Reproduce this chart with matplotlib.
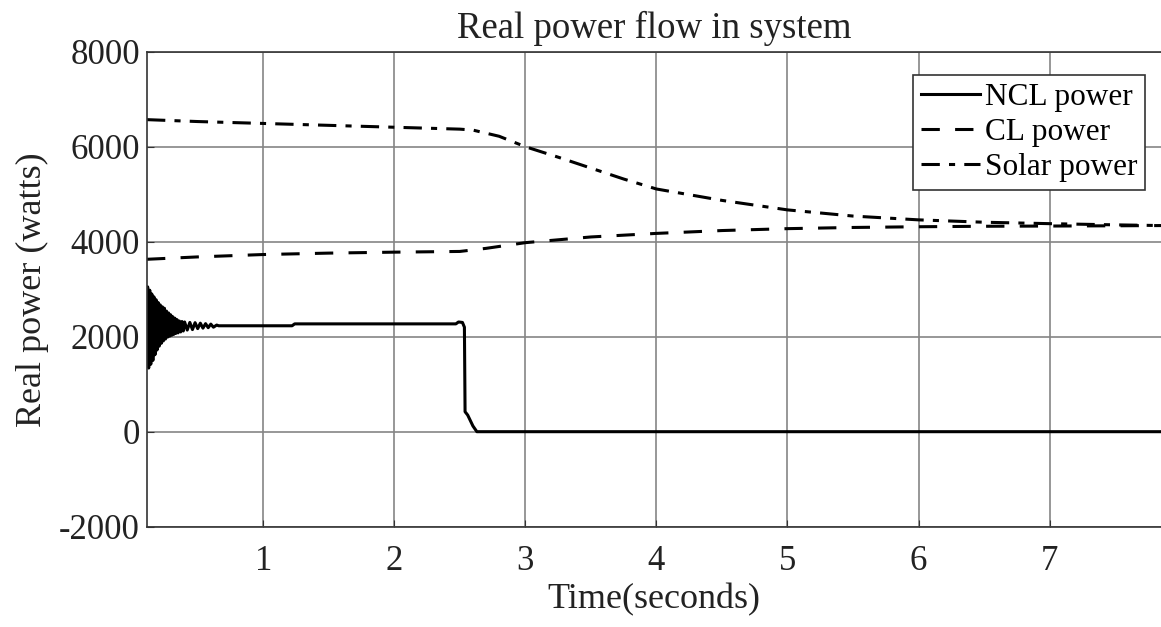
import numpy as np
import matplotlib
matplotlib.use('Agg')
import matplotlib.pyplot as plt

plt.rcParams['font.family'] = ['Liberation Serif', 'DejaVu Serif']
plt.rcParams['axes.unicode_minus'] = False

# NCL power: decaying oscillation at start, then flat, then drop to zero
ncl_t = [0.113, 0.118, 0.126, 0.134, 0.142, 0.150, 0.158, 0.166, 0.174, 0.182,
         0.190, 0.198, 0.206, 0.214, 0.222, 0.230, 0.238, 0.246, 0.254, 0.262,
         0.270, 0.278, 0.286, 0.294, 0.302, 0.310, 0.318, 0.326, 0.334, 0.342,
         0.350, 0.360, 0.370, 0.380, 0.390, 0.400, 0.420, 0.440, 0.460, 0.480,
         0.500, 0.520, 0.540, 0.560, 0.580, 0.600, 0.620, 0.645, 0.660,
         1.22, 1.24, 2.47, 2.49, 2.52, 2.535, 2.54, 2.56, 2.60, 2.63, 7.85]
ncl_p = [2200, 3050, 1340, 2980, 1420, 2900, 1500, 2840, 1620, 2780,
         1720, 2720, 1800, 2670, 1860, 2630, 1910, 2600, 1950, 2540,
         1990, 2500, 2010, 2460, 2030, 2420, 2050, 2390, 2070, 2360,
         2080, 2330, 2100, 2320, 2120, 2310, 2140, 2300, 2150, 2295,
         2170, 2285, 2180, 2275, 2190, 2265, 2200, 2245, 2230,
         2230, 2270, 2270, 2310, 2300, 2200, 420, 350, 120, 0, 0]

# CL power
cl_t = [0.113, 0.5, 1.0, 1.5, 2.0, 2.5, 2.7, 3.0, 3.5, 4.0, 4.5, 5.0, 5.5, 6.0, 6.5, 7.0, 7.5, 7.85]
cl_p = [3630, 3680, 3730, 3760, 3780, 3795, 3860, 3980, 4100, 4175, 4235, 4275, 4300, 4315, 4325, 4330, 4335, 4340]

# Solar power
sol_t = [0.113, 0.5, 1.0, 1.5, 2.0, 2.5, 2.6, 2.8, 3.0, 3.25, 3.5, 3.75, 4.0, 4.5, 5.0, 5.5, 6.0, 6.5, 7.0, 7.5, 7.85]
sol_p = [6570, 6530, 6490, 6450, 6410, 6370, 6350, 6220, 6000, 5780, 5550, 5320, 5110, 4870, 4670, 4540, 4460, 4410, 4380, 4355, 4340]

fig = plt.figure(figsize=(11.61, 6.27), dpi=100)
ax = fig.add_axes([0.1266, 0.16, 0.8734, 0.7575])

ax.plot(ncl_t, ncl_p, color='black', lw=2.2, label='NCL power')
ax.plot(cl_t, cl_p, color='black', lw=2.2, dashes=(6, 5), label='CL power')
ax.plot(sol_t, sol_p, color='black', lw=2.2, dashes=(6, 3, 2, 3), label='Solar power')

ax.set_xlim(0.113, 7.85)
ax.set_ylim(-2000, 8000)
ax.set_xticks([1, 2, 3, 4, 5, 6, 7])
ax.set_yticks([-2000, 0, 2000, 4000, 6000, 8000])
ax.grid(True, color='#858585', lw=1.2)
ax.tick_params(direction='in', length=5, labelsize=25, colors='#333333')
ax.tick_params(axis='x', pad=13)
ax.tick_params(axis='y', pad=5)
for lbl in ax.get_xticklabels() + ax.get_yticklabels():
    lbl.set_color('#222222')
for side in ['left', 'bottom', 'top']:
    ax.spines[side].set_color('#333333')
    ax.spines[side].set_linewidth(1.2)
ax.spines['right'].set_visible(False)

ax.set_title('Real power flow in system', fontsize=26.5, color='#222222', pad=10)
ax.set_xlabel('Time(seconds)', fontsize=26, color='#222222', labelpad=4)
ax.set_ylabel('Real power (watts)', fontsize=26, color='#222222', labelpad=7)

leg = ax.legend(loc='upper right', bbox_to_anchor=(1145 / 1161, 1 - 75 / 627), bbox_transform=fig.transFigure,
                fontsize=22.5, frameon=True, fancybox=False, framealpha=1,
                edgecolor='#333333', handlelength=1.9, handletextpad=0.15,
                borderpad=0.25, labelspacing=0.2, borderaxespad=0)
leg.get_frame().set_linewidth(1.2)

fig.savefig('out.png', dpi=100)
